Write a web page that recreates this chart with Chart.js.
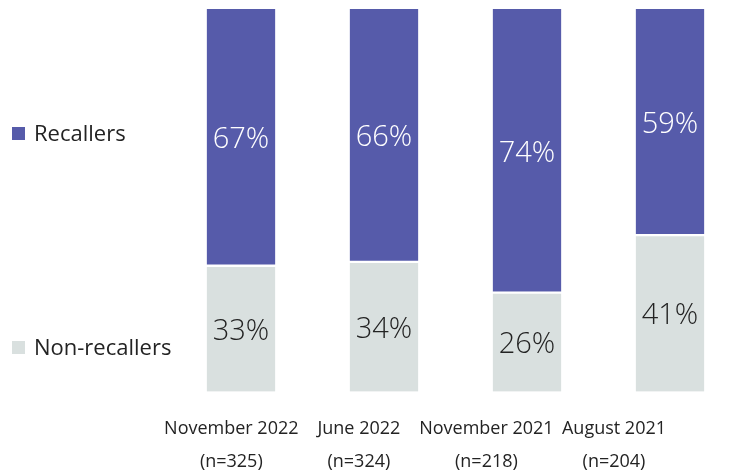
<!DOCTYPE html>
<html>
<head>
<meta charset="utf-8">
<script src="https://cdn.jsdelivr.net/npm/chart.js@4/dist/chart.umd.min.js"></script>
<style>
  html, body { margin: 0; padding: 0; background: #fff; }
  #wrap { width: 730px; height: 474px; position: relative; }
</style>
</head>
<body>
<div id="wrap"><canvas id="chart"></canvas></div>
<script>
// Survey waves and their sample sizes
const waves = ['November 2022', 'June 2022', 'November 2021', 'August 2021'];
const sampleSizes = ['(n=325)', '(n=324)', '(n=218)', '(n=204)'];

// Share of respondents (%) in each wave
const recallers = [67, 66, 74, 59];
const nonRecallers = [33, 34, 26, 41];

const seriesNames = ['Recallers', 'Non-recallers'];
const PURPLE = '#565BAA';
const GREY = '#D9E0DF';
const INK = '#232323';
const FONT = "'Open Sans', 'Noto Sans', sans-serif";

const labels = waves.map((w, i) => [w, sampleSizes[i]]);

// Value labels centred inside every segment
const segmentLabels = {
  id: 'segmentLabels',
  afterDatasetsDraw(chart) {
    const ctx = chart.ctx;
    ctx.save();
    ctx.font = '300 29px ' + FONT;
    ctx.textAlign = 'center';
    ctx.textBaseline = 'middle';
    chart.data.datasets.forEach((ds, di) => {
      const meta = chart.getDatasetMeta(di);
      meta.data.forEach((bar, i) => {
        const top = Math.min(bar.y, bar.base);
        const bottom = Math.max(bar.y, bar.base);
        ctx.fillStyle = ds.labelColor;
        ctx.fillText(ds.data[i] + '%', bar.x, (top + bottom) / 2 + 3);
      });
    });
    ctx.restore();
  }
};

// Legend on the left, one entry beside each band
const sideLegend = {
  id: 'sideLegend',
  afterDraw(chart) {
    const ctx = chart.ctx;
    const entries = [
      { ds: chart.data.datasets[1], y: 134 },
      { ds: chart.data.datasets[0], y: 348 }
    ];
    ctx.save();
    ctx.font = '400 22px ' + FONT;
    ctx.textAlign = 'left';
    ctx.textBaseline = 'alphabetic';
    entries.forEach(e => {
      ctx.fillStyle = e.ds.backgroundColor;
      ctx.fillRect(12, e.y - 7, 13, 13);
      ctx.fillStyle = INK;
      ctx.fillText(e.ds.label, 34, e.y + 7);
    });
    ctx.restore();
  }
};

new Chart(document.getElementById('chart'), {
  type: 'bar',
  data: {
    labels: labels,
    datasets: [
      {
        label: seriesNames[1],
        data: nonRecallers,
        backgroundColor: GREY,
        borderColor: '#ffffff',
        borderWidth: { top: 2, bottom: 0, left: 0, right: 0 },
        borderSkipped: false,
        labelColor: INK
      },
      {
        label: seriesNames[0],
        data: recallers,
        backgroundColor: PURPLE,
        borderColor: '#ffffff',
        borderWidth: { top: 0, bottom: 1, left: 0, right: 0 },
        borderSkipped: false,
        labelColor: '#ffffff'
      }
    ]
  },
  options: {
    responsive: true,
    maintainAspectRatio: false,
    animation: false,
    devicePixelRatio: 1,
    layout: { padding: { top: 9, left: 241, right: 60, bottom: 0 } },
    datasets: { bar: { barThickness: 68.5, clip: false } },
    plugins: {
      legend: { display: false },
      tooltip: { enabled: false }
    },
    scales: {
      // category axis that places the bars
      x: {
        stacked: true,
        offset: false,
        display: false
      },
      // label axis: wave names sit on a slightly tighter pitch than the bars
      xLabels: {
        type: 'linear',
        position: 'bottom',
        offset: false,
        min: 0.076,
        max: 3.439,
        grid: { display: false, offset: false, drawTicks: false, tickLength: 0 },
        border: { display: false },
        afterBuildTicks(scale) {
          scale.ticks = labels.map((_, i) => ({ value: i }));
        },
        ticks: {
          color: INK,
          padding: 21,
          maxRotation: 0,
          autoSkip: false,
          font: { family: FONT, size: 18, weight: '400', lineHeight: '33px' },
          callback: (value) => labels[value]
        },
        afterFit(scale) {
          scale.height = 82.5;
          scale.paddingLeft = 0;
          scale.paddingRight = 0;
        }
      },
      y: {
        stacked: true,
        display: false,
        min: 0,
        max: 100
      }
    }
  },
  plugins: [segmentLabels, sideLegend]
});
</script>
</body>
</html>
